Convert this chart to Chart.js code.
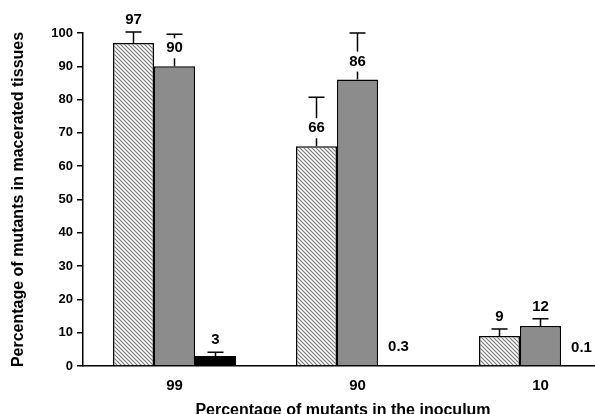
<!DOCTYPE html>
<html>
<head>
<meta charset="utf-8">
<script src="https://cdn.jsdelivr.net/npm/chart.js@4/dist/chart.umd.min.js"></script>
<style>
  html, body { margin: 0; padding: 0; background: #fff; overflow: hidden; }
  #wrap { position: relative; width: 632px; height: 420px; }
</style>
</head>
<body>
<div id="wrap"><canvas id="mutantsChart"></canvas></div>
<script>
// data
var categories = ['99', '90', '10'];
var hatchedValues = [97, 66, 9];
var grayValues = [90, 86, 12];
var blackValues = [3, 0.3, 0.1];
// upper error bar lengths (same units as the values)
var hatchedErrors = [3.3, 14.7, 2.1];
var grayErrors = [9.6, 14, 2.2];
var blackErrors = [1.1, 0, 0];
var yTicks = [0, 10, 20, 30, 40, 50, 60, 70, 80, 90, 100];

var fontFamily = '"Liberation Sans", Arial, Helvetica, sans-serif';
var xTitleText = 'Percentage of mutants in the inoculum';

// diagonal hatch fill
function makeHatch() {
    var c = document.createElement('canvas');
    c.width = 4;
    c.height = 4;
    var g = c.getContext('2d');
    g.fillStyle = '#fff';
    g.fillRect(0, 0, 4, 4);
    g.strokeStyle = '#777';
    g.lineWidth = 1.1;
    g.beginPath();
    g.moveTo(-1, -1); g.lineTo(5, 5);
    g.moveTo(3, -1); g.lineTo(5, 1);
    g.moveTo(-1, 3); g.lineTo(1, 5);
    g.stroke();
    return g.createPattern(c, 'repeat');
}

// error bars + value labels
var errorLabelPlugin = {
    id: 'errorLabels',
    afterDatasetsDraw: function (chart) {
        var ctx = chart.ctx;
        var yScale = chart.scales.y;
        ctx.save();
        chart.data.datasets.forEach(function (ds, di) {
            var meta = chart.getDatasetMeta(di);
            meta.data.forEach(function (bar, i) {
                var v = ds.data[i];
                var err = ds.errors[i];
                var top = bar.y;
                var capY = yScale.getPixelForValue(v + err);
                if (err > 0) {
                    ctx.strokeStyle = '#000';
                    ctx.lineWidth = 1.5;
                    ctx.beginPath();
                    ctx.moveTo(bar.x, top);
                    ctx.lineTo(bar.x, capY);
                    ctx.moveTo(bar.x - 8, capY);
                    ctx.lineTo(bar.x + 8, capY);
                    ctx.stroke();
                }
                // label sits over the error line unless the cap would hit it
                var labelY = top - 18;
                if (err > 0 && capY > labelY - 10) labelY = capY - 12;
                var txt = String(v);
                ctx.font = 'bold 15px ' + fontFamily;
                var w = ctx.measureText(txt).width;
                ctx.fillStyle = '#fff';
                ctx.fillRect(bar.x - w / 2 - 2, labelY - 10, w + 4, 20);
                ctx.fillStyle = '#000';
                ctx.textAlign = 'center';
                ctx.textBaseline = 'middle';
                ctx.fillText(txt, bar.x, labelY);
            });
        });
        ctx.restore();
    },
    afterDraw: function (chart) {
        var ctx = chart.ctx;
        ctx.save();
        ctx.font = 'bold 16px ' + fontFamily;
        ctx.fillStyle = '#000';
        ctx.textAlign = 'center';
        ctx.textBaseline = 'middle';
        ctx.fillText(xTitleText, chart.chartArea.left + 260, 411);
        ctx.restore();
    }
};

var ctx1 = document.getElementById('mutantsChart').getContext('2d');
var mutantsChart = new Chart(ctx1, {
    type: 'bar',
    data: {
        labels: categories,
        datasets: [{
            data: hatchedValues,
            errors: hatchedErrors,
            backgroundColor: makeHatch(),
            borderColor: '#000',
            borderWidth: 1.5
        }, {
            data: grayValues,
            errors: grayErrors,
            backgroundColor: '#8c8c8c',
            borderColor: '#000',
            borderWidth: 1.5
        }, {
            data: blackValues,
            errors: blackErrors,
            backgroundColor: '#000',
            borderColor: '#000',
            borderWidth: 1
        }]
    },
    options: {
        responsive: true,
        maintainAspectRatio: false,
        animation: false,
        layout: { padding: { top: 33, left: 0, right: 0, bottom: 0 } },
        datasets: {
            bar: { categoryPercentage: 0.672, barPercentage: 1, borderSkipped: 'bottom' }
        },
        scales: {
            x: {
                grid: { display: false },
                border: { display: true, color: '#000', width: 1.5 },
                ticks: {
                    color: '#000',
                    padding: 3,
                    font: { family: fontFamily, size: 15, weight: 'bold' }
                },
                afterFit: function (scale) { scale.height = 54; }
            },
            y: {
                min: 0,
                max: 100,
                afterBuildTicks: function (scale) {
                    scale.ticks = yTicks.map(function (v) { return { value: v }; });
                },
                grid: {
                    drawOnChartArea: false,
                    drawTicks: true,
                    tickLength: 6,
                    color: '#000',
                    lineWidth: 1.5
                },
                border: { display: true, color: '#000', width: 1.5 },
                ticks: {
                    color: '#000',
                    padding: 4,
                    font: { family: fontFamily, size: 13, weight: 'bold' }
                },
                title: {
                    display: true,
                    text: 'Percentage of mutants in macerated tissues',
                    color: '#000',
                    padding: { top: 9, bottom: 0 },
                    font: { family: fontFamily, size: 16, weight: 'bold' }
                },
                afterFit: function (scale) { scale.width = 83; }
            }
        },
        plugins: {
            legend: { display: false },
            tooltip: { enabled: false }
        }
    },
    plugins: [errorLabelPlugin]
});
</script>
</body>
</html>
